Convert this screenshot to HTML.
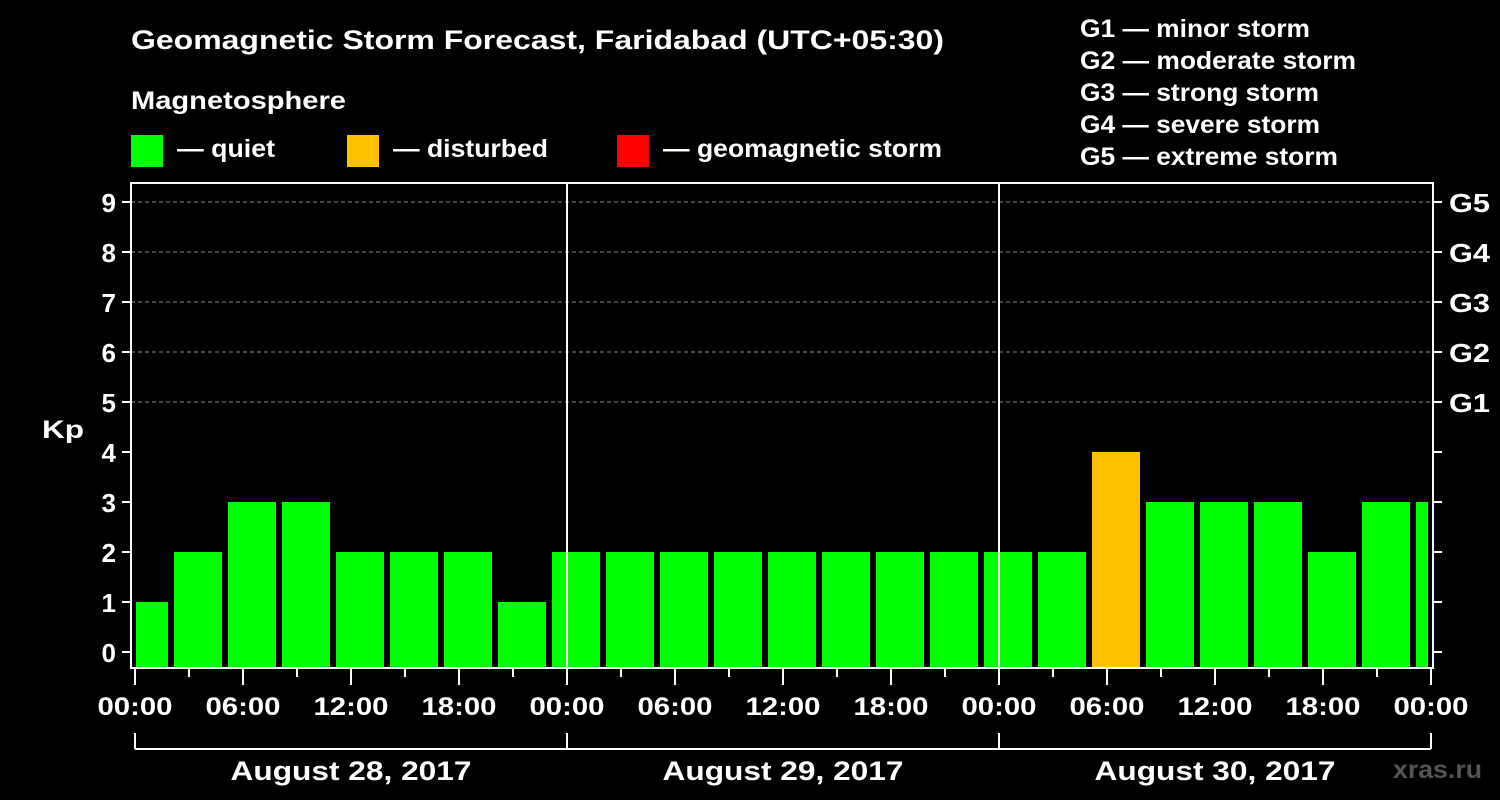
<!DOCTYPE html>
<html><head><meta charset="utf-8"><style>
body{margin:0;background:#000;width:1500px;height:800px;overflow:hidden}
svg{display:block;font-family:"Liberation Sans",Arial,sans-serif;font-weight:bold}
</style></head><body>
<svg id="c" width="1500" height="800">
<text x="131" y="49" fill="#fff" font-size="27" textLength="813" lengthAdjust="spacingAndGlyphs">Geomagnetic Storm Forecast, Faridabad (UTC+05:30)</text>
<text x="131" y="109" fill="#fff" font-size="25" textLength="215" lengthAdjust="spacingAndGlyphs">Magnetosphere</text>
<rect x="131" y="135" width="32" height="32" fill="#00ff00"/>
<text x="177" y="157" fill="#fff" font-size="25" textLength="98" lengthAdjust="spacingAndGlyphs">— quiet</text>
<rect x="347" y="135" width="32" height="32" fill="#ffc000"/>
<text x="393" y="157" fill="#fff" font-size="25" textLength="155" lengthAdjust="spacingAndGlyphs">— disturbed</text>
<rect x="617" y="135" width="32" height="32" fill="#ff0000"/>
<text x="663" y="157" fill="#fff" font-size="25" textLength="279" lengthAdjust="spacingAndGlyphs">— geomagnetic storm</text>
<g fill="#fff" font-size="25">
<text x="1080" y="37" textLength="230" lengthAdjust="spacingAndGlyphs">G1 — minor storm</text>
<text x="1080" y="69" textLength="276" lengthAdjust="spacingAndGlyphs">G2 — moderate storm</text>
<text x="1080" y="101" textLength="239" lengthAdjust="spacingAndGlyphs">G3 — strong storm</text>
<text x="1080" y="133" textLength="240" lengthAdjust="spacingAndGlyphs">G4 — severe storm</text>
<text x="1080" y="165" textLength="258" lengthAdjust="spacingAndGlyphs">G5 — extreme storm</text>
</g>
<text x="42" y="438" fill="#fff" font-size="25" textLength="42" lengthAdjust="spacingAndGlyphs">Kp</text>
<text x="1393" y="778" fill="#555" font-size="25" textLength="89" lengthAdjust="spacingAndGlyphs">xras.ru</text>
<g id="plot"></g>
</svg>
<script>
const kpValues=[1,2,3,3,2,2,2,1,2,2,2,2,2,2,2,2,2,2,4,3,3,3,2,3,3];
const yTicks=[0,1,2,3,4,5,6,7,8,9];
const gLabels=["G1","G2","G3","G4","G5"];
const timeLabels=["00:00","06:00","12:00","18:00"];
const dayLabels=["August 28, 2017","August 29, 2017","August 30, 2017"];
const firstBinStartHour=-1;
const NS="http://www.w3.org/2000/svg";
const X0=135,PXH=18,TOTALH=72;
const x=h=>X0+h*PXH;
const y=k=>652-50*k;
const g=document.getElementById('plot');
function el(t,a){const e=document.createElementNS(NS,t);for(const k in a)e.setAttribute(k,a[k]);g.appendChild(e);return e;}
for(let k=5;k<=9;k++){const l=el('line',{x1:131,x2:1433,y1:y(k),y2:y(k),stroke:'#888','stroke-dasharray':'4,3','stroke-width':1});

}
kpValues.forEach((v,i)=>{
 let s=x(firstBinStartHour+3*i),e=x(firstBinStartHour+3*i+3);
 s=Math.max(s,x(0)-2)+3;e=Math.min(e,x(TOTALH))-3;
 if(e<=s)return;
 const c=v>=5?'#ff0000':(v>=4?'#ffc000':'#00ff00');
 const r=el('rect',{x:s,y:y(v),width:e-s,height:668-y(v),fill:c});
 
 
});
for(let d=1;d<3;d++){const l=el('line',{x1:x(24*d),x2:x(24*d),y1:183,y2:668,stroke:'#fff','stroke-width':2});

}
const b=el('rect',{x:131,y:183,width:1302,height:485,fill:'none',stroke:'#fff','stroke-width':2});


yTicks.forEach(k=>{
 el('line',{x1:122,x2:131,y1:y(k),y2:y(k),stroke:'#fff','stroke-width':2});
 el('line',{x1:1433,x2:1442,y1:y(k),y2:y(k),stroke:'#fff','stroke-width':2});
 const t=el('text',{x:116,y:y(k)+10,fill:'#fff','font-size':26,'text-anchor':'end'});t.textContent=k;
 
 
 if(k>=5){const gt=el('text',{x:1449,y:y(k)+10,fill:'#fff','font-size':26,textLength:41,lengthAdjust:'spacingAndGlyphs'});gt.textContent=gLabels[k-5];
 
 }
});
for(let h=0;h<=TOTALH;h+=3){
 const major=h%6===0;
 el('line',{x1:x(h),x2:x(h),y1:669,y2:major?685:677,stroke:'#fff','stroke-width':2});
 if(major){
  const t=el('text',{x:x(h)-37.5,y:715,fill:'#fff','font-size':25,textLength:75,lengthAdjust:'spacingAndGlyphs'});
  t.textContent=timeLabels[(h%24)/6];
  
  
 }
}
el('line',{x1:x(0),x2:x(TOTALH),y1:749,y2:749,stroke:'#fff','stroke-width':2});
for(let d=0;d<=3;d++)el('line',{x1:x(24*d),x2:x(24*d),y1:733,y2:749,stroke:'#fff','stroke-width':2});
dayLabels.forEach((s,d)=>{const t=el('text',{x:x(24*d+12)-120.5,y:780,fill:'#fff','font-size':27,textLength:241,lengthAdjust:'spacingAndGlyphs'});t.textContent=s;

});
</script>
</body></html>
